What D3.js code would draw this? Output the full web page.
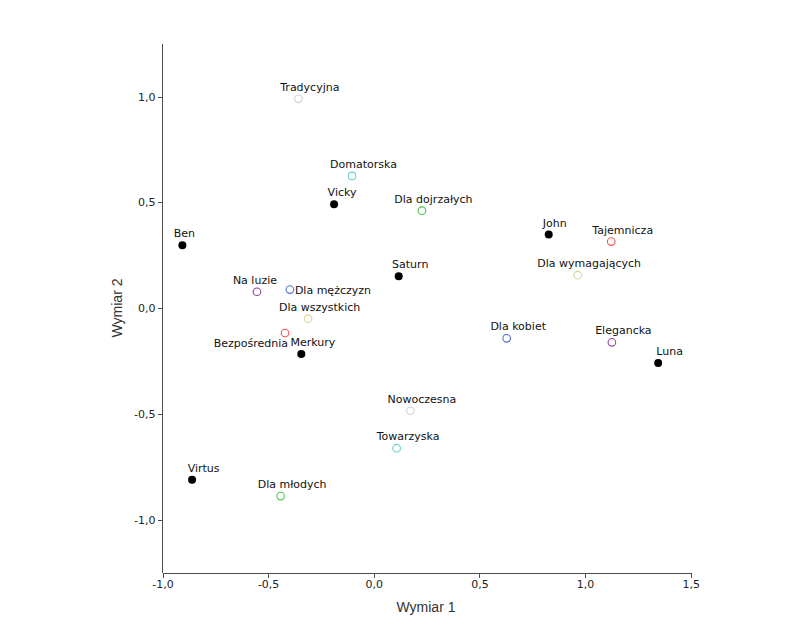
<!DOCTYPE html>
<html>
<head>
<meta charset="utf-8">
<script src="https://cdn.jsdelivr.net/npm/d3@7"></script>
<style>
  body { margin: 0; background: #fff; }
  svg { display: block; }
</style>
</head>
<body>
<svg id="chart" width="791" height="633"></svg>
<script>
// ---- data ----
const brandNames = ["Vicky", "Ben", "Saturn", "John", "Luna", "Merkury", "Virtus"];
const brandX = [-0.188, -0.906, 0.118, 0.828, 1.346, -0.343, -0.860];
const brandY = [0.491, 0.298, 0.151, 0.348, -0.258, -0.216, -0.810];

const attrNames = ["Tradycyjna", "Domatorska", "Dla dojrzałych", "Tajemnicza", "Dla wymagających",
  "Na luzie", "Dla mężczyzn", "Dla wszystkich", "Bezpośrednia", "Dla kobiet", "Elegancka",
  "Nowoczesna", "Towarzyska", "Dla młodych"];
const attrX = [-0.357, -0.103, 0.228, 1.124, 0.965, -0.553, -0.397, -0.311, -0.420, 0.629, 1.127, 0.173, 0.108, -0.441];
const attrY = [0.989, 0.625, 0.461, 0.315, 0.156, 0.078, 0.088, -0.049, -0.117, -0.142, -0.161, -0.484, -0.661, -0.887];
const attrColors = ["#d0d0d0", "#5ccfd0", "#4cc24c", "#f05555", "#dcd396",
  "#9445a5", "#5470d0", "#dcd396", "#f05555", "#5470d0", "#9445a5",
  "#d0d0d0", "#5ccfd0", "#4cc24c"];

const xTicks = [-1.0, -0.5, 0.0, 0.5, 1.0, 1.5];
const yTicks = [-1.0, -0.5, 0.0, 0.5, 1.0];
const xTitle = "Wymiar 1";
const yTitle = "Wymiar 2";

// ---- layout ----
const svg = d3.select("#chart");
const x = d3.scaleLinear().domain([-1.0, 1.5]).range([162.5, 690.7]);
const y = d3.scaleLinear().domain([-1.248, 1.248]).range([572.5, 44]);
const fmt = v => d3.format(".1f")(v).replace(".", ",").replace("−", "-");
const axisColor = "#4d4d4d";
const labelFont = "DejaVu Sans, Verdana, sans-serif";

// label placement exceptions (layout only)
const labelPlacement = {
  "Dla mężczyzn": { anchor: "start", dx: 5, dy: 4 },
  "Bezpośrednia": { anchor: "end", dx: 3, dy: 14 },
  "Na luzie": { anchor: "middle", dx: -2, dy: -8 },
  "Ben": { anchor: "middle", dx: 2, dy: -8 },
  "John": { anchor: "middle", dx: 6, dy: -8 },
  "Vicky": { anchor: "middle", dx: 8, dy: -8 }
};
const defaultPlacement = { anchor: "middle", dx: 11.5, dy: -8 };

// ---- axes ----
const xAxis = d3.axisBottom(x).tickValues(xTicks).tickFormat(fmt).tickSize(5).tickPadding(3);
const yAxis = d3.axisLeft(y).tickValues(yTicks).tickFormat(fmt).tickSize(5).tickPadding(2);

const gx = svg.append("g").attr("transform", `translate(0,${y.range()[0]})`).call(xAxis);
const gy = svg.append("g").attr("transform", `translate(${x.range()[0]},0)`).call(yAxis);
[gx, gy].forEach(g => {
  g.select(".domain").attr("stroke", axisColor).attr("stroke-width", 1).attr("shape-rendering", "crispEdges");
  g.selectAll(".tick line").attr("stroke", axisColor).attr("shape-rendering", "crispEdges");
  g.selectAll(".tick text").attr("fill", "#222").style("font-family", labelFont).style("font-size", "11px");
});
// domain without outer ticks
gx.select(".domain").attr("d", `M${x.range()[0]},0.5H${x.range()[1]}`);
gy.select(".domain").attr("d", `M-0.5,${y.range()[0]}V${y.range()[1]}`);

svg.append("text")
  .attr("x", 426).attr("y", 612)
  .attr("text-anchor", "middle")
  .style("font-family", "Liberation Sans, Arial, sans-serif")
  .style("font-size", "14px")
  .attr("fill", "#333")
  .text(xTitle);

svg.append("text")
  .attr("transform", `translate(122,308) rotate(-90)`)
  .attr("text-anchor", "middle")
  .style("font-family", "Liberation Sans, Arial, sans-serif")
  .style("font-size", "14px")
  .attr("fill", "#333")
  .text(yTitle);

// ---- points ----
const brands = brandNames.map((n, i) => ({ name: n, x: brandX[i], y: brandY[i] }));
const attrs = attrNames.map((n, i) => ({ name: n, x: attrX[i], y: attrY[i], color: attrColors[i] }));

const plot = svg.append("g");

plot.selectAll("circle.attr").data(attrs).join("circle")
  .attr("class", "attr")
  .attr("cx", d => x(d.x)).attr("cy", d => y(d.y))
  .attr("r", 3.8)
  .attr("fill", "#fff")
  .attr("stroke", d => d.color)
  .attr("stroke-width", 1.1);

plot.selectAll("circle.brand").data(brands).join("circle")
  .attr("class", "brand")
  .attr("cx", d => x(d.x)).attr("cy", d => y(d.y))
  .attr("r", 4)
  .attr("fill", "#000");

const all = attrs.concat(brands);
plot.selectAll("text.lbl").data(all).join("text")
  .attr("class", "lbl")
  .each(function (d) {
    const p = labelPlacement[d.name] || defaultPlacement;
    d3.select(this)
      .attr("x", x(d.x) + p.dx)
      .attr("y", y(d.y) + p.dy)
      .attr("text-anchor", p.anchor);
  })
  .style("font-family", labelFont)
  .style("font-size", "11px")
  .attr("fill", "#111")
  .text(d => d.name);
</script>
</body>
</html>
